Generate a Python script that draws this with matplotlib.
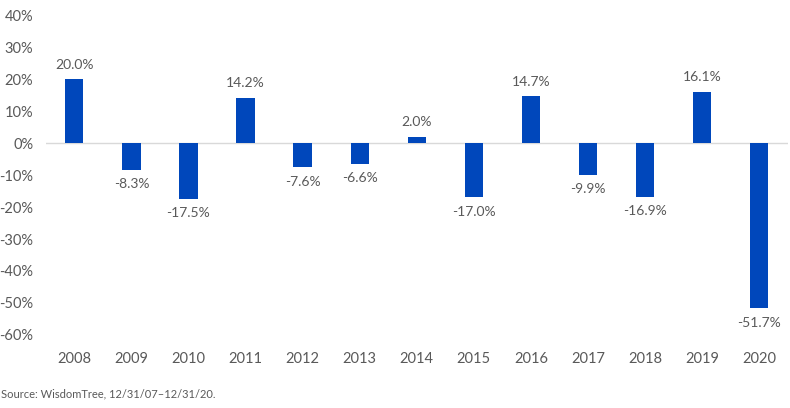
import matplotlib
matplotlib.use('Agg')
import matplotlib.pyplot as plt
import numpy as np

years = ['2008', '2009', '2010', '2011', '2012', '2013', '2014',
         '2015', '2016', '2017', '2018', '2019', '2020']
returns = [20.0, -8.3, -17.5, 14.2, -7.6, -6.6, 2.0,
           -17.0, 14.7, -9.9, -16.9, 16.1, -51.7]
yticks = [40, 30, 20, 10, 0, -10, -20, -30, -40, -50, -60]

plt.rcParams['font.family'] = ['Lato', 'DejaVu Sans']
text_color = '#595959'
bar_color = '#0047BB'

fig = plt.figure(figsize=(7.9, 4.08), dpi=100)
ax = fig.add_axes([0.058, 0.179, 0.939, 0.784])

x = np.arange(len(years))
ax.bar(x, returns, width=0.32, color=bar_color, zorder=3)
ax.axhline(0, color='#D9D9D9', linewidth=1, zorder=2)

# data labels above positive bars, below negative ones
for xi, v in zip(x, returns):
    if v >= 0:
        ax.annotate(f'{v:.1f}%', (xi, v), xytext=(0, 6), textcoords='offset points',
                    ha='center', va='bottom', fontsize=10, color=text_color)
    else:
        ax.annotate(f'{v:.1f}%', (xi, v), xytext=(0, -6), textcoords='offset points',
                    ha='center', va='top', fontsize=10, color=text_color)

ax.set_ylim(-60, 40)
ax.set_xlim(-0.5, len(years) - 0.5)
ax.set_yticks(yticks)
ax.set_yticklabels([f'{t}%' for t in yticks])
ax.set_xticks(x)
ax.set_xticklabels(years)
ax.tick_params(axis='y', length=0, labelsize=10.5, labelcolor=text_color, pad=9)
ax.tick_params(axis='x', length=0, labelsize=10.5, labelcolor=text_color, pad=12)
for s in ax.spines.values():
    s.set_visible(False)

fig.text(0.001, 0.035, 'Source: WisdomTree, 12/31/07\u201312/31/20.', fontsize=8,
         color=text_color, ha='left', va='center')

fig.savefig('out.png', dpi=100)
